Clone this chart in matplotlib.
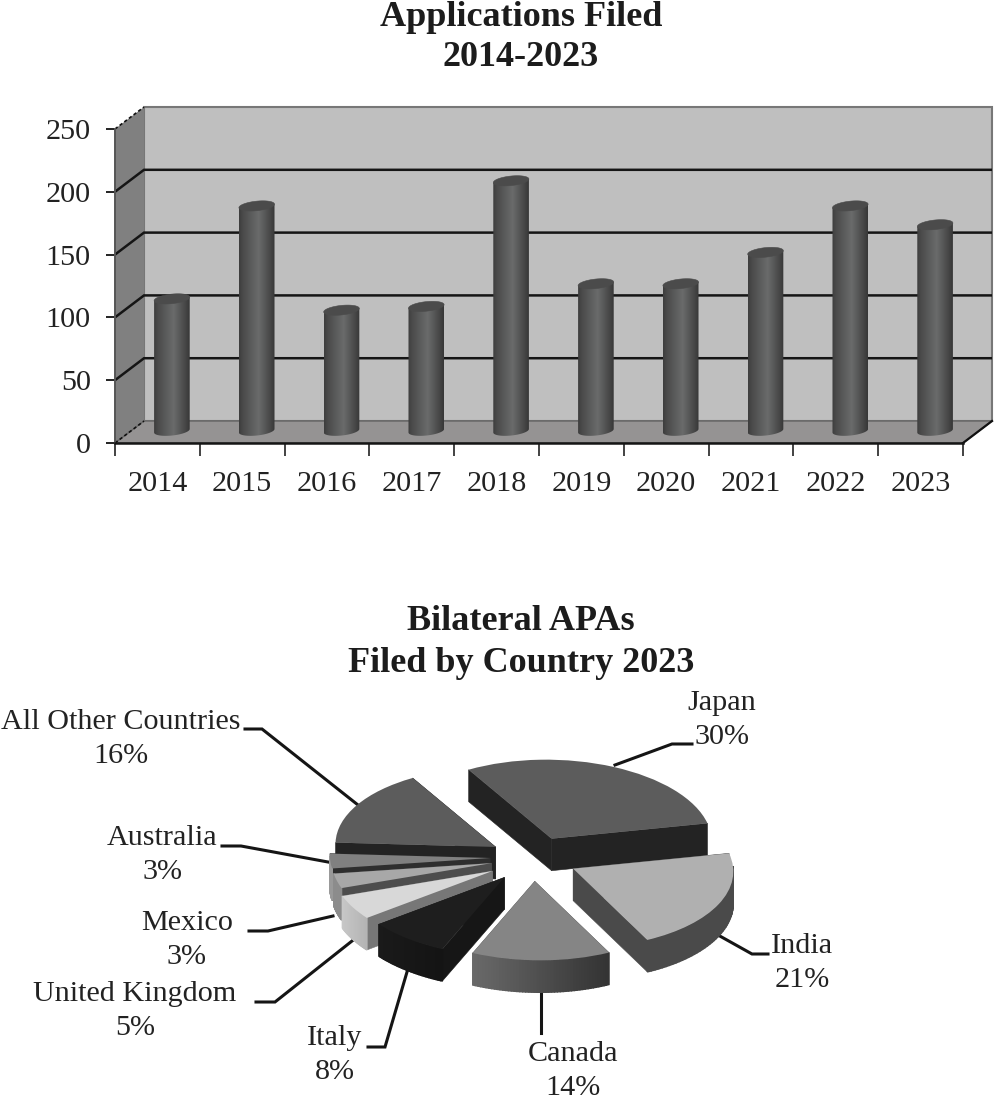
import numpy as np
from matplotlib import pyplot as plt
from matplotlib.colors import LinearSegmentedColormap, to_rgb
from matplotlib.patches import Polygon
from matplotlib.transforms import Affine2D

plt.rcParams['font.family'] = ['Liberation Serif', 'DejaVu Serif']

# bar data
years = ['2014', '2015', '2016', '2017', '2018', '2019', '2020', '2021', '2022', '2023']
filed = [106, 180, 97, 100, 200, 118, 118, 143, 180, 165]
y_ticks = [0, 50, 100, 150, 200, 250]

# pie data
countries = ['Japan', 'India', 'Canada', 'Italy', 'United Kingdom', 'Mexico', 'Australia',
             'All Other Countries']
shares = [30, 21, 14, 8, 5, 3, 3, 16]

W, H = 994, 1104
fig = plt.figure(figsize=(W / 100, H / 100), dpi=100, facecolor='white')


def px_axes(left, top, right, bottom):
    return fig.add_axes([left / W, 1 - bottom / H, (right - left) / W, (bottom - top) / H])


# overlay for titles, pie labels and leaders (pixel coords)
over = fig.add_axes([0, 0, 1, 1])
over.set_xlim(0, W)
over.set_ylim(H, 0)
over.axis('off')

TITLE = 26
LABEL = 21.7
title_ink = '#1c1c1c'
over.text(521, 18, 'Applications Filed', ha='center', va='center', fontsize=TITLE, weight='bold', color=title_ink)
over.text(521, 58, '2014-2023', ha='center', va='center', fontsize=TITLE, weight='bold', color=title_ink)
over.text(521, 621, 'Bilateral APAs', ha='center', va='center', fontsize=TITLE, weight='bold', color=title_ink)
over.text(521, 664, 'Filed by Country 2023', ha='center', va='center', fontsize=TITLE, weight='bold', color=title_ink)

# ---- bar chart ----
ax = px_axes(115, 107, 992, 443)
dx = 0.342
dy = 17.5
xmax = len(years)
ytop = y_ticks[-1]
ax.set_facecolor('none')
ax.add_patch(Polygon([(dx, dy), (xmax + dx, dy), (xmax + dx, ytop + dy), (dx, ytop + dy)],
                     fc='#bfbfbf', ec='#777777', lw=1.5, zorder=1, clip_on=False))
ax.add_patch(Polygon([(0, 0), (dx, dy), (dx, ytop + dy), (0, ytop)], fc='#808080', ec='none', zorder=1))
ax.add_patch(Polygon([(0, 0), (xmax, 0), (xmax + dx, dy), (dx, dy)], fc='#959393', ec='#666666', lw=1, zorder=1))
for v in y_ticks[1:-1]:
    ax.plot([0, dx, xmax + dx], [v, v + dy, v + dy], color='#151515', lw=1.8, zorder=2, solid_joinstyle='miter')
ax.plot([0, dx], [0, dy], color='#111111', lw=1.2, ls=(0, (2, 1.5)), zorder=2)
ax.plot([0, dx], [ytop, ytop + dy], color='#111111', lw=1.2, ls=(0, (2, 1.5)), zorder=2)
ax.plot([xmax, xmax + dx], [0, dy], color='#111111', lw=1.6, zorder=2, clip_on=False)

cyl = LinearSegmentedColormap.from_list('cyl', [(0, '#3e3e3e'), (0.12, '#4c4c4c'), (0.55, '#6a6b6b'),
                                                (0.85, '#4a4a4a'), (1, '#383838')])
shade = np.linspace(0, 1, 64).reshape(1, -1)
bw = 0.42
ell_h = 3.8
tilt = -1.4
t_low = np.linspace(np.pi, 2 * np.pi, 40)
t_all = np.linspace(0, 2 * np.pi, 60)
for i, v in enumerate(filed):
    xc = i + 0.5 + dx / 2
    base = dy / 2 + 1
    top = v + dy / 2
    lo_x = xc + bw / 2 * np.cos(t_low)
    lo_y = base + ell_h * np.sin(t_low) - tilt * np.cos(t_low)
    ring_x = xc + bw / 2 * np.cos(t_all)
    ring_y = top + ell_h * np.sin(t_all) - tilt * np.cos(t_all)
    outline = np.column_stack([np.r_[xc - bw / 2, lo_x, xc + bw / 2],
                               np.r_[top + tilt, lo_y, top - tilt]])
    clip = Polygon(outline, closed=True, transform=ax.transData, fc='none', ec='none')
    ax.add_patch(clip)
    im = ax.imshow(shade, cmap=cyl, vmin=0, vmax=1, aspect='auto', zorder=3, interpolation='bilinear',
                   extent=(xc - bw / 2, xc + bw / 2, base - ell_h - 3, top + 3))
    im.set_clip_path(clip)
    ax.add_patch(Polygon(np.column_stack([ring_x, ring_y]), fc='#4b4b4b', ec='#4b4b4b', lw=0.4, zorder=4))

ax.set_xlim(0, xmax + dx)
ax.set_ylim(0, ytop + dy)
ax.set_xticks(range(xmax + 1))
ax.set_xticklabels([])
ax.set_xticks(np.arange(xmax) + 0.5, labels=years, minor=True)
ax.set_yticks(y_ticks)
ax.tick_params(axis='x', which='major', length=9, width=1.2, color='#222222')
ax.tick_params(axis='x', which='minor', length=0, pad=20, labelsize=LABEL, labelcolor='#222222')
ax.tick_params(axis='y', length=6.5, width=1.4, color='#222222', pad=11, labelsize=LABEL, labelcolor='#222222')
for s in ['top', 'right']:
    ax.spines[s].set_visible(False)
ax.spines['bottom'].set_bounds(0, xmax)
ax.spines['bottom'].set_linewidth(1.8)
ax.spines['bottom'].set_color('#151515')
ax.spines['left'].set_bounds(0, ytop)
ax.spines['left'].set_linewidth(1.4)
ax.spines['left'].set_color('#555555')

# ---- pie ----
pie_ax = px_axes(202, 702, 842, 1018)
tops = ['#5c5c5c', '#b0b0b0', '#858585', '#1e1e1e', '#d8d8d8', '#a8a8a8', '#808080', '#5c5c5c']
radial = ['#232323', '#4a4a4a', '#555555', '#161616', '#777777', '#4d4d4d', '#2e2e2e', '#232323']
arc_a = ['#232323', '#4a4a4a', '#6a6a6a', '#1a1a1a', '#c8c8c8', '#8c8c8c', '#999999', '#232323']
arc_b = ['#232323', '#4a4a4a', '#333333', '#141414', '#b4b4b4', '#8c8c8c', '#999999', '#232323']
# slice offsets from pie centre, pie radius = 1
off_x = [0.185, 0.32, 0.08, -0.11, -0.185, -0.19, -0.20, -0.165]
off_y = [0.27, -0.11, -0.27, -0.22, -0.14, -0.04, 0.025, 0.165]
# back to front
rank = [0, 5, 7, 6, 4, 3, 2, 1]
thick = 0.405
lean = -0.035  # perspective of the original, near edge sits further right

wedges, _ = pie_ax.pie(shares, startangle=119.2, counterclock=False, colors=tops, radius=1)
for k, w in enumerate(wedges):
    cx, cy = off_x[k], off_y[k]
    w.set_center((cx, cy))
    w.set_zorder(rank[k] * 10 + 3)
    w.set_transform(Affine2D().translate(-cx, -cy) + Affine2D.from_values(1, 0, lean, 1, 0, 0)
                    + Affine2D().translate(cx, cy) + pie_ax.transData)
    a = np.radians(np.linspace(w.theta1, w.theta2, 50))
    ax_pts = cx + np.cos(a) + lean * np.sin(a)
    ay_pts = cy + np.sin(a)
    # radial faces
    for ex, ey in [(ax_pts[0], ay_pts[0]), (ax_pts[-1], ay_pts[-1])]:
        pie_ax.add_patch(Polygon([(cx, cy), (ex, ey), (ex, ey - thick), (cx, cy - thick)],
                                 fc=radial[k], ec=radial[k], lw=0.4, zorder=rank[k] * 10 + 1))
    # outer wall, only the part facing the viewer
    ca = np.array(to_rgb(arc_a[k]))
    cb = np.array(to_rgb(arc_b[k]))
    lo, hi = ax_pts.min(), ax_pts.max()
    for j in range(len(a) - 1):
        if np.sin(a[j]) > 0.02 and np.sin(a[j + 1]) > 0.02:
            continue
        f = (0.5 * (ax_pts[j] + ax_pts[j + 1]) - lo) / max(hi - lo, 1e-6)
        col = ca + (cb - ca) * f
        pie_ax.add_patch(Polygon([(ax_pts[j], ay_pts[j]), (ax_pts[j + 1], ay_pts[j + 1]),
                                  (ax_pts[j + 1], ay_pts[j + 1] - thick), (ax_pts[j], ay_pts[j] - thick)],
                                 fc=col, ec=col, lw=1.0, zorder=rank[k] * 10 + 2))
pie_ax.set_aspect('auto')
pie_ax.set_xlim(-2, 2)
pie_ax.set_ylim(-2, 2)
pie_ax.patch.set_alpha(0)

# leaders and labels
leaders = [
    [(615, 765), (672, 744), (692, 744)],
    [(718, 935), (752, 954), (768, 954)],
    [(541, 992), (541, 1033)],
    [(407, 972), (385, 1047), (368, 1047)],
    [(352, 941), (275, 1002), (256, 1002)],
    [(333, 916), (268, 931), (249, 931)],
    [(328, 862), (241, 846), (222, 846)],
    [(358, 805), (262, 729), (245, 729)],
]
label_pos = [(722, 721), (802, 964), (573, 1072), (335, 1056), (135, 1012), (187, 941), (162, 856), (121, 740)]
for k, name in enumerate(countries):
    pts = np.array(leaders[k])
    over.plot(pts[:, 0], pts[:, 1], color='#151515', lw=2.2, solid_joinstyle='miter')
    over.text(label_pos[k][0], label_pos[k][1] - 11, name, ha='center', va='baseline',
              fontsize=LABEL, color='#222222')
    over.text(label_pos[k][0], label_pos[k][1] + 23, f'{shares[k]}%', ha='center', va='baseline',
              fontsize=LABEL, color='#222222')

fig.savefig('out.png', dpi=100, facecolor='white')
